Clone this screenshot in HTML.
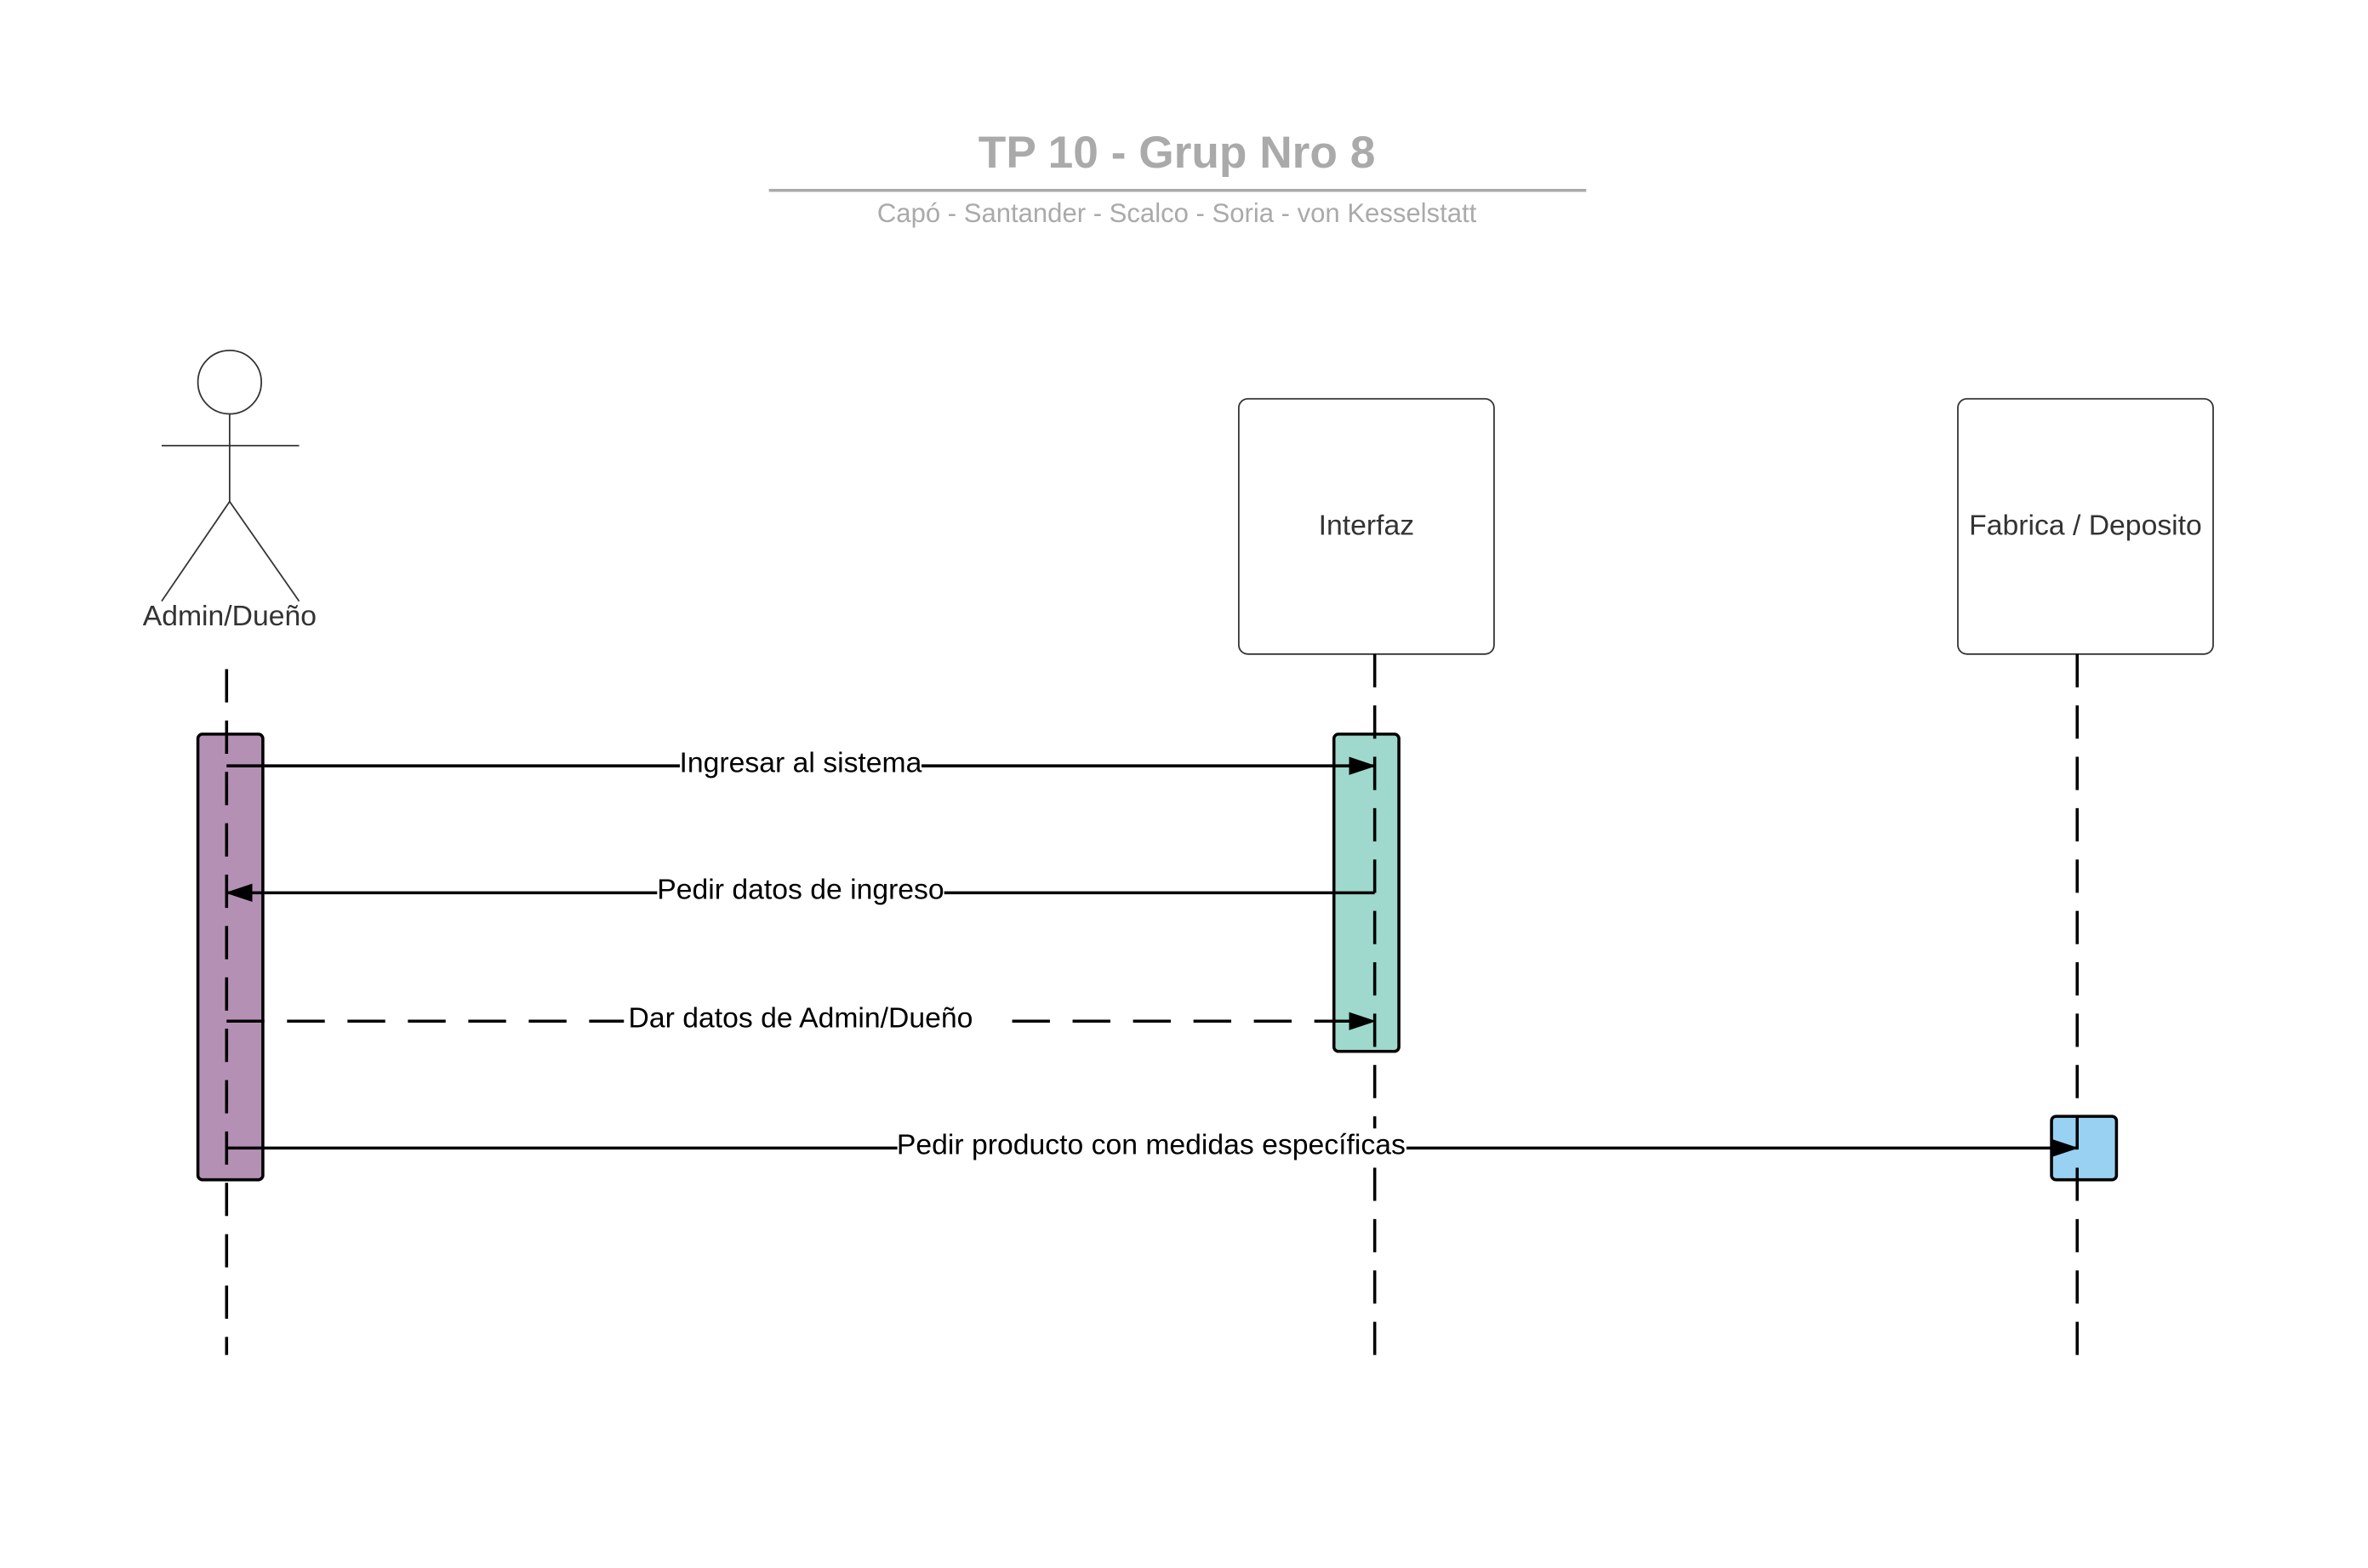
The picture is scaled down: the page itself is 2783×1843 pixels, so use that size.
<!DOCTYPE html>
<html><head><meta charset="utf-8"><style>
html,body{margin:0;padding:0;background:#fff}
svg{display:block;font-family:"Liberation Sans",sans-serif}
</style></head><body>
<svg width="2783" height="1843" viewBox="0 0 1567.5 1038" preserveAspectRatio="none" xmlns="http://www.w3.org/2000/svg">
<defs>
<marker id="ah2" markerWidth="18" markerHeight="14" refX="17" refY="7" orient="auto" markerUnits="userSpaceOnUse"><path d="M0,1 L18,7 L0,13 z" fill="#000"/></marker></defs>
<rect width="1567.5" height="1038" fill="#fff"/>
<text x="779" y="111" text-anchor="middle" font-size="30" font-weight="bold" fill="#aaaaaa">TP 10 - Grup Nro 8</text>
<line x1="509" y1="126" x2="1050" y2="126" stroke="#aaaaaa" stroke-width="2"/>
<text x="779" y="147" text-anchor="middle" font-size="17.5" fill="#aaaaaa">Capó - Santander - Scalco - Soria - von Kesselstatt</text>
<g stroke="#333" stroke-width="1" fill="none">
<circle cx="152" cy="253" r="21" fill="#fff"/>
<line x1="107" y1="295" x2="198" y2="295"/><line x1="152" y1="274" x2="152" y2="332"/>
<line x1="152" y1="332" x2="107" y2="398"/><line x1="152" y1="332" x2="198" y2="398"/>
</g>
<text x="152" y="414" text-anchor="middle" font-size="19" fill="#333">Admin/Dueño</text>
<rect x="820" y="264" width="169" height="169" rx="6" fill="#fff" stroke="#333"/>
<text x="904.5" y="354" text-anchor="middle" font-size="19" fill="#333">Interfaz</text>
<rect x="1296" y="264" width="169" height="169" rx="6" fill="#fff" stroke="#333"/>
<text x="1380.5" y="354" text-anchor="middle" font-size="19" fill="#333">Fabrica / Deposito</text>
<rect x="131" y="486" width="43" height="295" rx="3" fill="#b491b4" stroke="#000" stroke-width="2"/>
<rect x="883" y="486" width="43" height="210" rx="3" fill="#9fd8cc" stroke="#000" stroke-width="2"/>
<rect x="1358" y="739" width="43" height="42" rx="3" fill="#99d1f2" stroke="#000" stroke-width="2"/>
<g stroke="#000" stroke-width="2" stroke-dasharray="22,12" fill="none">
<line x1="150" y1="443" x2="150" y2="897"/>
<line x1="910" y1="433" x2="910" y2="908"/>
<line x1="1375" y1="433" x2="1375" y2="908"/>
</g>
<g stroke="#000" stroke-width="2" fill="none">
<line x1="150" y1="507" x2="910" y2="507" marker-end="url(#ah2)"/>
<line x1="910" y1="591" x2="150" y2="591" marker-end="url(#ah2)"/>
<line x1="150" y1="676" x2="910" y2="676" stroke-dasharray="25,15" marker-end="url(#ah2)"/>
<line x1="150" y1="760" x2="1375" y2="760" marker-end="url(#ah2)"/>
</g>
<g font-size="19" fill="#000" text-anchor="middle">
<rect x="450" y="494" width="160" height="22" fill="#fff"/><text x="530" y="511">Ingresar al sistema</text>
<rect x="435" y="578" width="190" height="22" fill="#fff"/><text x="530" y="595">Pedir datos de ingreso</text>
<rect x="413" y="663" width="245" height="22" fill="#fff"/><text x="530" y="680">Dar datos de Admin/Dueño</text>
<rect x="594" y="747" width="337" height="22" fill="#fff"/><text x="762" y="764">Pedir producto con medidas específicas</text>
</g>
</svg>
</body></html>
